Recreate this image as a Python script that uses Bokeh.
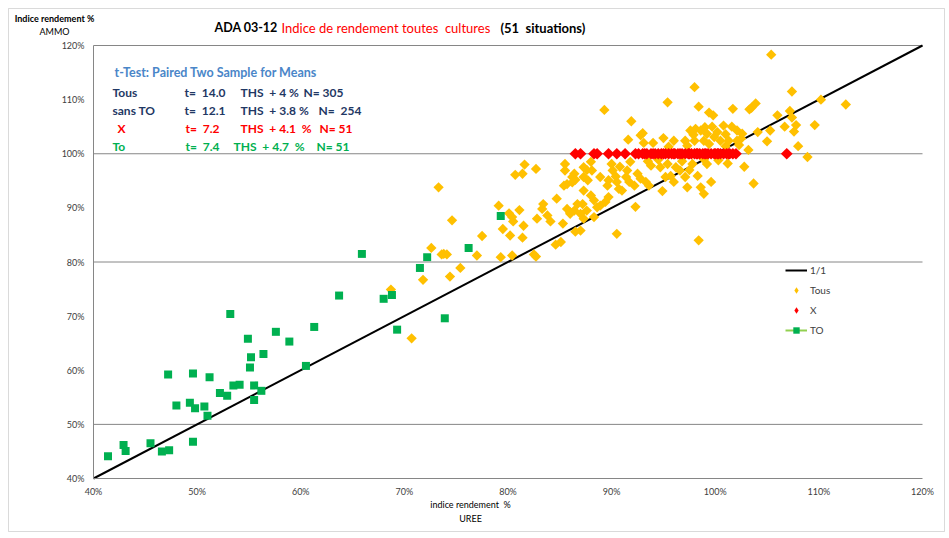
import math
from bokeh.plotting import figure
from bokeh.models import (Range1d, FixedTicker, PrintfTickFormatter, Label, Legend,
                          LegendItem, PolyAnnotation)
from bokeh.embed import file_html
from bokeh.resources import INLINE

# ---------------- data (percent) ----------------
AXIS_TICKS = [40, 50, 60, 70, 80, 90, 100, 110, 120]
GRID_Y = [50, 80, 100, 120]
ONE_TO_ONE = [40, 120]

tous_x = [73.3, 74.6, 81.6, 82.7, 80.7, 81.4, 85.5, 85.5, 85.7, 85.4, 86.2, 86.5, 79.1, 80.1,
          80.4, 80.5, 81.1, 79.5, 80.2, 81.4, 81.5, 82.8, 83.4, 83.3, 83.8, 84.1, 84.7, 85.3,
          85.7, 86.0, 86.4, 86.7, 86.5, 84.6, 85.1, 82.5, 82.7, 80.4, 79.3, 77.5, 77.0, 75.4,
          74.4, 73.8, 73.6, 74.1, 72.6, 71.8, 68.7, 70.7,
          89.3, 91.9, 93.0, 92.8, 91.6, 93.1, 94.0, 95.0, 95.4, 88.0, 87.6, 87.3, 87.7, 90.0,
          90.1, 90.4, 90.5, 89.7, 89.6, 91.5, 91.4, 91.7, 92.5, 92.8, 93.3, 92.2, 93.6, 93.8,
          94.7, 95.2, 94.9, 90.7, 91.0, 87.3, 88.0, 88.3, 89.7, 89.4, 88.9, 88.6, 87.6, 87.2,
          87.0, 88.3, 92.3, 90.5, 87.3, 86.2, 88.1, 86.0, 87.0,
          105.4, 98.0, 107.4, 103.9, 110.2, 112.6, 98.4, 101.7, 103.3, 103.5, 99.4, 99.8, 106.0,
          107.2, 107.4, 106.7, 107.8, 107.6, 109.6, 108.0, 108.9, 105.3, 105.0, 104.1, 103.2,
          102.8, 103.7, 96.0, 97.1, 97.6, 98.1, 98.6, 99.2, 99.7, 100.8, 101.6, 102.1, 99.9,
          100.5, 101.3, 102.1, 86.4, 87.3, 88.9, 95.7, 96.0, 96.6, 97.1, 97.3, 97.8, 98.3, 98.6,
          98.9, 99.6, 96.2,
          98.4, 102.6, 102.5, 98.9, 98.0, 95.4, 99.2, 98.9,
          97.9, 99.0, 100.2, 101.0, 95.5, 97.3, 99.4, 101.0, 102.3, 93.5, 94.5, 96.8, 97.5,
          100.3, 101.2, 91.8, 90.8]
tous_y = [93.8, 87.7, 98.0, 97.2, 96.1, 96.3, 98.1, 96.9, 94.4, 94.1, 94.7, 95.2, 90.4, 89.0,
          88.3, 87.5, 89.6, 86.1, 84.9, 84.5, 86.7, 88.0, 90.7, 89.8, 88.6, 87.5, 91.7, 87.1,
          89.8, 89.2, 89.5, 90.7, 85.6, 83.2, 83.7, 81.4, 81.0, 81.2, 80.9, 84.8, 81.2, 78.9,
          77.3, 81.5, 81.4, 81.4, 82.6, 76.7, 74.9, 65.9,
          108.1, 106.0, 103.8, 103.4, 102.6, 102.0, 102.0, 102.9, 109.5, 98.5, 97.0, 95.7, 95.1,
          98.1, 96.9, 95.8, 94.8, 95.1, 94.1, 96.9, 95.7, 94.8, 96.3, 95.4, 94.8, 94.1, 94.1,
          97.8, 97.5, 95.7, 93.1, 93.5, 93.2, 93.2, 92.3, 91.4, 92.0, 91.1, 90.4, 90.1, 89.5,
          90.7, 88.9, 88.3, 90.2, 85.2, 88.0, 95.7, 96.9, 88.9, 85.8,
          118.3, 112.3, 111.5, 109.3, 110.0, 109.1, 108.7, 108.3, 108.2, 108.5, 107.6, 107.1,
          107.1, 107.9, 106.7, 105.0, 105.3, 104.1, 105.3, 101.4, 99.4, 104.3, 102.3, 104.0,
          100.7, 97.6, 94.5, 102.4, 102.4, 104.3, 104.6, 104.3, 103.7, 105.0, 105.2, 105.0,
          104.3, 103.1, 102.4, 102.4, 102.4, 96.3, 97.5, 95.7, 95.9, 94.8, 96.9, 95.7, 93.8,
          98.1, 95.9, 93.8, 92.6, 94.8, 97.5,
          84.0, 103.7, 102.8, 102.4, 102.4, 98.1, 98.1, 99.0,
          103.5, 104.9, 104.0, 103.6, 101.3, 101.5, 101.8, 101.4, 101.6, 98.6, 98.9, 98.6, 97.0,
          98.8, 98.2, 98.5, 97.6]

x_x = [86.5, 87.0, 88.3, 88.6, 89.7, 90.5, 91.3, 92.3, 92.6, 93.0, 93.4, 93.8, 94.2, 94.5,
       94.8, 95.2, 95.5, 95.8, 96.1, 96.4, 96.8, 97.1, 97.4, 97.7, 98.0, 98.2, 98.5, 98.8,
       99.1, 99.3, 99.6, 99.9, 100.2, 100.5, 100.8, 101.1, 101.4, 101.7, 102.0, 94.0, 95.0,
       96.0, 97.5, 98.3, 99.0, 100.0, 100.3, 101.3, 93.2, 96.6, 106.9]
x_y = [100.0] * len(x_x)

to_x = [41.4, 42.9, 43.1, 45.5, 46.6, 47.3, 49.6, 47.2, 49.6, 51.2, 48.0, 49.3, 49.8, 50.7,
        51.0, 52.2, 52.9, 53.5, 54.1, 55.5, 56.2, 55.5, 55.1, 55.2, 54.9, 53.2, 56.4, 57.6,
        58.9, 60.5, 61.3, 65.9, 63.7, 68.0, 68.8, 69.3, 71.5, 72.2, 73.9, 76.2, 79.3]
to_y = [44.1, 46.2, 45.1, 46.5, 45.0, 45.2, 46.8, 59.2, 59.4, 58.7, 53.5, 54.0, 53.0, 53.3,
        51.6, 55.8, 55.3, 57.2, 57.3, 57.2, 56.2, 54.5, 60.5, 62.4, 65.8, 70.4, 63.0, 67.1,
        65.3, 60.8, 68.0, 81.5, 73.8, 73.2, 73.9, 67.5, 78.9, 80.9, 69.6, 82.6, 88.5]

LEGEND_LABELS = ["1/1", "Tous", "X", "TO"]

# ---------------- layout ----------------
W, H = 949, 538
FL, FR, FT, FB = 93, 922, 45, 478          # pixel box of the 40..120 % area
XMIN, XMAX, YMIN, YMAX = 40, 120, 40, 120
FONT = "Lato"

sx = (XMAX - XMIN) / (FR - FL)
sy = (YMAX - YMIN) / (FB - FT)
x_range = Range1d(XMIN - FL * sx, XMAX + (W - FR) * sx)
y_range = Range1d(YMIN - (H - FB) * sy, YMAX + FT * sy)

p = figure(width=W, height=H, x_range=x_range, y_range=y_range,
           output_backend="svg", toolbar_location=None,
           min_border_left=0, min_border_right=0, min_border_top=0, min_border_bottom=0)
p.outline_line_color = None
p.background_fill_color = "white"
p.border_fill_color = "white"
p.xgrid.visible = False
p.ygrid.visible = False

for ax, loc in ((p.xaxis[0], YMIN), (p.yaxis[0], XMIN)):
    ax.fixed_location = loc
    ax.bounds = (XMIN, XMAX)
    ax.ticker = FixedTicker(ticks=AXIS_TICKS)
    ax.formatter = PrintfTickFormatter(format="%d%%")
    ax.axis_line_color = "#868686"
    ax.axis_line_width = 1
    ax.major_tick_line_color = "#868686"
    ax.major_tick_in = 0
    ax.major_tick_out = 0
    ax.minor_tick_line_color = None
    ax.major_label_text_font = FONT
    ax.major_label_text_font_size = "9px"
    ax.major_label_text_color = "#404040"
p.yaxis.major_label_standoff = 9
p.xaxis.major_label_standoff = 7

# horizontal gridlines between the axes bounds
p.segment(x0=[XMIN] * len(GRID_Y), x1=[XMAX] * len(GRID_Y), y0=GRID_Y, y1=GRID_Y,
          line_color="#868686", line_width=1)

r_line = p.line(ONE_TO_ONE, ONE_TO_ONE, line_color="black", line_width=2)
r_tous = p.scatter(tous_x, tous_y, marker="square", size=7.3, angle=math.pi / 4,
                   fill_color="#FFC000", line_color=None)
r_x = p.scatter(x_x, x_y, marker="square", size=8.3, angle=math.pi / 4,
                fill_color="#FF0000", line_color=None)
r_to = p.scatter(to_x, to_y, marker="square", size=8, fill_color="#00B050", line_color=None)

# legend-only glyphs (NaN data, nothing drawn in the plot)
NAN = [math.nan]
lg_tous = p.scatter(NAN, NAN, marker="diamond", size=8, fill_color="#FFC000", line_color=None)
lg_x = p.scatter(NAN, NAN, marker="diamond", size=8, fill_color="#FF0000", line_color=None)
lg_to_line = p.line(NAN, NAN, line_color="#92D050", line_width=2)
lg_to = p.scatter(NAN, NAN, marker="square", size=6, fill_color="#00B050", line_color=None)

legend = Legend(items=[LegendItem(label=LEGEND_LABELS[0], renderers=[r_line]),
                       LegendItem(label=LEGEND_LABELS[1], renderers=[lg_tous]),
                       LegendItem(label=LEGEND_LABELS[2], renderers=[lg_x]),
                       LegendItem(label=LEGEND_LABELS[3], renderers=[lg_to_line, lg_to])],
                location=(785, H - 338), orientation="vertical",
                padding=0, margin=0, spacing=4, glyph_width=22, glyph_height=16,
                label_height=16, label_standoff=3, label_text_font=FONT,
                label_text_font_size="10px", label_text_color="#404040",
                border_line_color=None, background_fill_alpha=0)
p.add_layout(legend)

# outer chart border
p.add_layout(PolyAnnotation(xs=[8, 944, 944, 8], ys=[H - 8, H - 8, H - 531, H - 531],
                            xs_units="screen", ys_units="screen",
                            fill_alpha=0, line_color="#868686", line_width=1))


def lab(px, py, text, color, size, bold=False, align="left"):
    p.add_layout(Label(x=px, y=H - py, x_units="screen", y_units="screen",
                       text=text, text_color=color, text_font=FONT,
                       text_font_size=f"{size}px",
                       text_font_style="bold" if bold else "normal",
                       text_align=align, text_baseline="middle"))


NB = "\u00a0"
# title
lab(214, 27, "ADA 03-12", "#000000", 12.5, True)
lab(281, 27, f"Indice de rendement toutes {NB}cultures", "#FF0000", 13, False)
lab(500, 27, f"(51 {NB}situations)", "#000000", 13, True)

# axis titles
lab(54, 18, "Indice rendement %", "#000000", 9, True, "center")
lab(54, 31, "AMMO", "#000000", 9, False, "center")
lab(470, 504, f"indice rendement {NB}%", "#000000", 9, False, "center")
lab(470, 518, "UREE", "#000000", 9, False, "center")

# t-test block
NAVY, RED, GREEN, LBLUE = "#1F3864", "#FF0000", "#00B050", "#4A86C8"
lab(114, 72, "t-Test: Paired Two Sample for Means", LBLUE, 12.5, True)
rows = [(92, NAVY, "Tous", 112, f"t={NB} 14.0", 184, f"THS {NB}+ 4 %", 240, "N= 305", 303),
        (110, NAVY, "sans TO", 112, f"t={NB} 12.1", 184, f"THS {NB}+ 3.8 %", 240, f"N={NB} 254", 318),
        (128, RED, "X", 117, f"t={NB} 7.2", 185, f"THS {NB}+ 4.1 {NB}%", 240, "N= 51", 319),
        (146, GREEN, "To", 112, f"t={NB} 7.4", 185, f"THS {NB}+ 4.7 {NB}%", 233, "N= 51", 316)]
for py, col, a, ax_, b, bx, c, cx, d, dx in rows:
    lab(ax_, py, a, col, 12, True)
    lab(bx, py, b, col, 12, True)
    lab(cx, py, c, col, 12, True)
    lab(dx, py, d, col, 12, True)

open("out.html", "w").write(file_html(p, INLINE))
